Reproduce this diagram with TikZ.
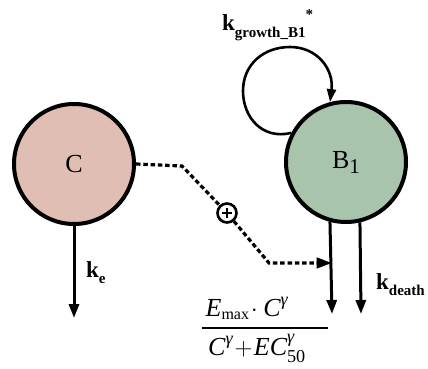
\documentclass[tikz,border=0pt]{standalone}
\usepackage{amsmath}
\usepackage{fontspec}
\setmainfont{Liberation Serif}
\usetikzlibrary{arrows.meta}
\definecolor{cfill}{RGB}{224,190,180}
\definecolor{bfill}{RGB}{168,196,172}
\tikzset{
  state/.style={circle, draw=black, line width=4pt, minimum size=120pt, inner sep=0pt,
    font=\fontsize{26}{28}\selectfont},
  flow/.style={line width=3pt, -{Triangle[length=14pt,width=10pt]}},
  dotline/.style={line width=3.2pt, dash pattern=on 4.5pt off 2.8pt},
  lbl/.style={font=\fontsize{23}{25}\selectfont\bfseries, inner sep=0pt},
  sub/.style={font=\fontsize{15}{16}\selectfont\bfseries},
}
\begin{document}
\begin{tikzpicture}[x=1pt,y=-1pt]
\useasboundingbox (0,0) rectangle (428,369);
\node[state, fill=cfill] (C) at (74,164) {C};
\node[state, fill=bfill] (B) at (346,162) {B\raisebox{-5pt}{\fontsize{21}{22}\selectfont 1}};
% self loop
\draw[line width=2.6pt, -{Triangle[length=13pt,width=9pt]}] (B.152) .. controls (262,140) and (243,117) .. (243,91)
  .. controls (243,64) and (264,47) .. (290,47)
  .. controls (318,47) and (334,70) .. (B.105);
\node[lbl, anchor=base west] (kg) at (222,31) {k\raisebox{-6pt}{\fontsize{15}{16}\selectfont growth\_B1}\raisebox{12pt}{\fontsize{15}{16}\selectfont *}};
% elimination
\coordinate (ce) at (74,318);
\draw[flow] (C.south) -- (ce);
\node[lbl, anchor=base west] (ke) at (86,277) {k\raisebox{-6pt}{\fontsize{15}{16}\selectfont e}};
% death arrows
\coordinate (d1) at (332,314);
\coordinate (d2) at (361,314);
\draw[flow] (B.255) -- (d1);
\draw[flow] (B.283) -- (d2);
\node[lbl, anchor=base west] (kd) at (376,289) {k\raisebox{-6pt}{\fontsize{15}{16}\selectfont death}};
% drug effect
\node[circle, draw=black, line width=2.6pt, minimum size=19pt, inner sep=0pt, fill=white] (P) at (227,213) {};
\draw[line width=2.2pt] ([xshift=-5pt]P.center) -- ([xshift=5pt]P.center)
  ([yshift=-5pt]P.center) -- ([yshift=5pt]P.center);
\coordinate (m1) at (182,166);
\coordinate (m2) at (269,263);
\coordinate (m3) at (330,263);
\draw[dotline] (C.east) -- (m1) -- (P);
\draw[dotline] (P) -- (m2) -- ([xshift=-10pt]m3);
\draw[line width=1pt, fill=black] (m3) -- ++(-13pt,-5pt) -- ++(0,10pt) -- cycle;
% Emax formula
\node[anchor=base, inner sep=0pt, font=\fontsize{26}{28}\selectfont] (num) at (247,316)
  {$\textit{E}_{\textup{\fontsize{16}{16}\selectfont max}}\!\cdot \textit{C}^{\textit{γ}}$};
\draw[line width=2pt] (202,328) -- (328,328);
\node[anchor=base, inner sep=0pt, font=\fontsize{26}{28}\selectfont] (den) at (257,355)
  {$\textit{C}^{\textit{γ}}\!+\!\textit{EC}^{\textit{γ}}_{\textup{50}}$};
\end{tikzpicture}
\end{document}
